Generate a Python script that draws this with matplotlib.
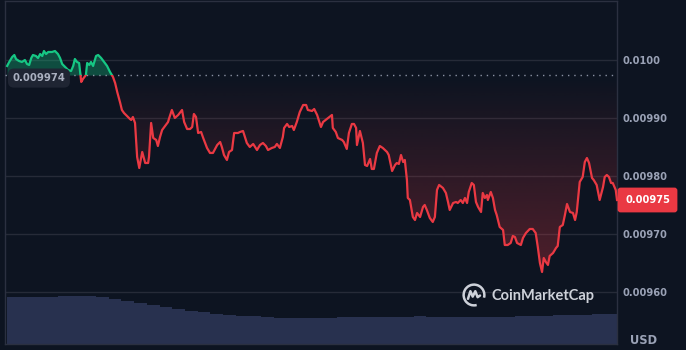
import math
import numpy as np
import matplotlib
matplotlib.use("Agg")
import matplotlib.pyplot as plt
from matplotlib.patches import Polygon, Rectangle, Arc
from matplotlib.colors import to_rgb

# ---------------- data ----------------
minutes = [0, 5, 12, 17, 21, 28, 35, 42, 47, 52, 57, 61, 68, 73, 78, 83, 87, 92, 97, 106,
           113, 120, 125, 130, 137, 144, 151, 156, 160, 165, 170, 175, 179, 186, 189, 194, 198, 203, 210, 215,
           222, 229, 236, 243, 250, 255, 260, 267, 271, 276, 283, 290, 293, 297, 302, 307, 312, 319, 326, 333,
           335, 340, 345, 352, 356, 361, 366, 373, 380, 382, 389, 396, 404, 413, 418, 425, 432, 437, 441, 446,
           451, 458, 463, 472, 479, 486, 496, 503, 507, 512, 519, 524, 531, 536, 545, 550, 557, 566, 573, 581,
           590, 597, 604, 611, 616, 625, 632, 637, 644, 651, 654, 661, 666, 673, 677, 684, 691, 699, 706, 710,
           720, 725, 732, 741, 746, 755, 767, 769, 776, 781, 791, 795, 802, 807, 814, 819, 824, 826, 833, 840,
           845, 850, 857, 861, 866, 873, 880, 887, 897, 901, 909, 916, 920, 925, 930, 935, 939, 944, 946, 951,
           958, 963, 968, 975, 982, 986, 991, 998, 1005, 1010, 1015, 1020, 1029, 1036, 1041, 1045, 1053, 1060, 1064, 1071,
           1076, 1081, 1086, 1090, 1097, 1102, 1107, 1112, 1119, 1123, 1128, 1133, 1135, 1142, 1147, 1152, 1156, 1163, 1171, 1175,
           1182, 1189, 1194, 1199, 1204, 1213, 1218, 1225, 1234, 1241, 1248, 1253, 1258, 1263, 1267, 1272, 1277, 1281, 1289, 1296,
           1300, 1305, 1312, 1317, 1322, 1329, 1336, 1341, 1345, 1352, 1359, 1364, 1369, 1374, 1381, 1385, 1392, 1399, 1407, 1411,
           1416, 1421, 1426, 1430, 1437, 1440]

prices = [0.0099897, 0.0099966, 0.0100052, 0.0100086, 0.0100017, 0.0099983, 0.0099966, 0.0100000, 0.0099931, 0.0099914,
          0.0100034, 0.0100086, 0.0100069, 0.0100034, 0.0100103, 0.0100069, 0.0100155, 0.0100103, 0.0100138, 0.0100138,
          0.0100155, 0.0100103, 0.0100034, 0.0099931, 0.0099879, 0.0099828, 0.0099810, 0.0099897, 0.0100017, 0.0099966,
          0.0099948, 0.0099621, 0.0099672, 0.0099741, 0.0099948, 0.0099914, 0.0099966, 0.0099897, 0.0100069, 0.0100086,
          0.0100034, 0.0099966, 0.0099897, 0.0099793, 0.0099707, 0.0099603, 0.0099448, 0.0099259, 0.0099138, 0.0099086,
          0.0099034, 0.0098983, 0.0098966, 0.0099017, 0.0098914, 0.0098328, 0.0098138, 0.0098414, 0.0098224, 0.0098224,
          0.0098328, 0.0098914, 0.0098655, 0.0098621, 0.0098517, 0.0098672, 0.0098793, 0.0098862, 0.0098931, 0.0098983,
          0.0099138, 0.0099000, 0.0099052, 0.0099138, 0.0098931, 0.0098810, 0.0098810, 0.0098845, 0.0099069, 0.0099017,
          0.0098741, 0.0098759, 0.0098655, 0.0098483, 0.0098397, 0.0098397, 0.0098534, 0.0098586, 0.0098500, 0.0098362,
          0.0098276, 0.0098414, 0.0098448, 0.0098741, 0.0098741, 0.0098759, 0.0098776, 0.0098569, 0.0098500, 0.0098552,
          0.0098448, 0.0098534, 0.0098569, 0.0098517, 0.0098448, 0.0098483, 0.0098500, 0.0098552, 0.0098483, 0.0098672,
          0.0098828, 0.0098897, 0.0098845, 0.0098862, 0.0098793, 0.0098931, 0.0099103, 0.0099224, 0.0099224, 0.0099138,
          0.0099121, 0.0099155, 0.0099052, 0.0098845, 0.0098931, 0.0098983, 0.0099052, 0.0098828, 0.0098759, 0.0098655,
          0.0098621, 0.0098586, 0.0098466, 0.0098741, 0.0098897, 0.0098897, 0.0098828, 0.0098534, 0.0098776, 0.0098569,
          0.0098190, 0.0098172, 0.0098293, 0.0098121, 0.0098121, 0.0098397, 0.0098517, 0.0098483, 0.0098414, 0.0098362,
          0.0098086, 0.0098190, 0.0098224, 0.0098207, 0.0098362, 0.0098241, 0.0098276, 0.0097931, 0.0097621, 0.0097586,
          0.0097293, 0.0097241, 0.0097362, 0.0097293, 0.0097466, 0.0097500, 0.0097414, 0.0097276, 0.0097207, 0.0097293,
          0.0097759, 0.0097845, 0.0097793, 0.0097707, 0.0097552, 0.0097414, 0.0097534, 0.0097552, 0.0097534, 0.0097586,
          0.0097534, 0.0097621, 0.0097534, 0.0097724, 0.0097879, 0.0097845, 0.0097552, 0.0097466, 0.0097379, 0.0097707,
          0.0097621, 0.0097672, 0.0097586, 0.0097724, 0.0097621, 0.0097414, 0.0097328, 0.0097121, 0.0097069, 0.0096810,
          0.0096810, 0.0096845, 0.0096966, 0.0096948, 0.0096845, 0.0096810, 0.0096931, 0.0097017, 0.0097086, 0.0097086,
          0.0097017, 0.0096776, 0.0096500, 0.0096345, 0.0096586, 0.0096517, 0.0096466, 0.0096621, 0.0096672, 0.0096759,
          0.0096793, 0.0097121, 0.0097155, 0.0097328, 0.0097517, 0.0097379, 0.0097362, 0.0097241, 0.0097379, 0.0097897,
          0.0097983, 0.0098241, 0.0098310, 0.0098224, 0.0097966, 0.0097931, 0.0097845, 0.0097586, 0.0097810, 0.0097983,
          0.0098017, 0.0097983, 0.0097879, 0.0097879, 0.0097759, 0.0097586]

open_price = 0.009974

# 30-minute volume bins (thousand USD)
volume_minutes = [15 + 30 * i for i in range(48)]
volumes = [47.3, 47.3, 47.3, 47.0, 48.0, 48.0, 48.0, 47.3, 45.0, 42.7, 41.0, 39.5, 37.5, 35.5, 33.5, 32.0,
           30.5, 29.3, 28.5, 27.8, 26.7, 26.3, 26.1, 26.0, 26.0, 26.3, 26.7, 26.8, 27.0, 27.0, 27.2, 27.4,
           27.7, 27.5, 27.2, 27.0, 27.0, 27.0, 27.3, 27.5, 28.0, 28.2, 28.5, 28.8, 29.0, 29.5, 29.8, 30.0]

ytick_values = [0.0096, 0.0097, 0.0098, 0.0099, 0.0100]
ytick_labels = ["0.00960", "0.00970", "0.00980", "0.00990", "0.0100"]
currency = "USD"
brand = "CoinMarketCap"

# ---------------- style ----------------
BG = "#0d1421"
RED = "#ea3943"
GREEN = "#16c784"
GRID = "#262b38"
LABEL = "#9aa2b6"
VOL = "#28314f"

W, H = 686, 350
fig = plt.figure(figsize=(W / 100, H / 100), dpi=100, facecolor=BG)
rect = [5 / W, 6 / H, 612 / W, 342.7 / H]

vax = fig.add_axes(rect)
ax = fig.add_axes(rect)
vax.set_zorder(0)
ax.set_zorder(1)
ax.patch.set_visible(False)
vax.set_facecolor(BG)

t = np.array(minutes, dtype=float)
p = np.array(prices)
xmin, xmax = -5, 1440
ax.set_xlim(xmin, xmax)
ax.set_ylim(0.0095103, 0.0101012)
vax.set_xlim(xmin, xmax)

# volume
vax.bar(volume_minutes, volumes, width=30, color=VOL, linewidth=0, align="center")
vax.set_ylim(0, max(volumes) * 7.14)
vax.axis("off")

# grid / spines / ticks
ax.set_yticks(ytick_values)
ax.set_yticklabels(ytick_labels)
ax.yaxis.grid(True, color=GRID, linewidth=1)
ax.set_axisbelow(True)
ax.set_xticks([])
ax.yaxis.tick_right()
ax.tick_params(axis="y", length=0, pad=4.3, labelcolor=LABEL, labelsize=7.1)
for lab in ax.get_yticklabels():
    lab.set_fontweight("bold")
for s in ax.spines.values():
    s.set_color("#2b3040")
    s.set_linewidth(1)

# green fill above open
above = np.maximum(p, open_price)
ax.fill_between(t, open_price, above, color=GREEN, alpha=0.32, linewidth=0, zorder=2)

# red gradient fill below open
below = np.minimum(p, open_price)
verts = np.column_stack([np.r_[t, t[::-1]], np.r_[below, np.full_like(t, open_price)[::-1]]])
clip = Polygon(verts, closed=True, transform=ax.transData, facecolor="none", edgecolor="none")
ax.add_patch(clip)
n = 256
rgba = np.zeros((n, 1, 4))
rgba[..., :3] = to_rgb(RED)
rgba[:, 0, 3] = np.linspace(0.30, 0.0, n)
im = ax.imshow(rgba, extent=[t[0], t[-1], p.min(), open_price], origin="lower",
               aspect="auto", zorder=2, interpolation="bilinear")
im.set_clip_path(clip)
ax.set_xlim(xmin, xmax)
ax.set_ylim(0.0095103, 0.0101012)

# baseline dotted
ax.axhline(open_price, color="#8a91a3", linewidth=1.0, linestyle=(0, (1, 3.5)), zorder=3)

# price line split at open
top_rect = Rectangle((xmin - 100, open_price), 3000, 1, transform=ax.transData)
bot_rect = Rectangle((xmin - 100, open_price - 1), 3000, 1, transform=ax.transData)
lg, = ax.plot(t, p, color=GREEN, linewidth=1.6, zorder=4, solid_joinstyle="round")
lg.set_clip_path(top_rect)
lr, = ax.plot(t, p, color=RED, linewidth=1.6, zorder=4, solid_joinstyle="round")
lr.set_clip_path(bot_rect)

# open price label
ax.annotate(f"{open_price:.6f}", xy=(0, open_price), xycoords=("axes fraction", "data"),
            xytext=(7.5, -3), textcoords="offset pixels", ha="left", va="center",
            fontsize=7.3, fontweight="bold", color="#aab0c0", zorder=6,
            bbox=dict(boxstyle="round,pad=0.45,rounding_size=0.6", fc="#1f2533", ec="none"))

# last price label
last = prices[-1]
last_txt = f"{math.floor(last * 1e5) / 1e5:.5f}"
ax.annotate(last_txt, xy=(1, last), xycoords=("axes fraction", "data"),
            xytext=(8, 0), textcoords="offset pixels", ha="left", va="center",
            fontsize=7.1, fontweight="bold", color="white", zorder=6, annotation_clip=False,
            bbox=dict(boxstyle="round,pad=0.75,rounding_size=0.3", fc=RED, ec="none"))

# currency
fig.text(630 / W, 1 - 340 / H, currency, ha="left", va="center", fontsize=8.3,
         fontweight="bold", color=LABEL)

# watermark
fig.text(492 / W, 1 - 296 / H, brand, ha="left", va="center", fontsize=10.5,
         fontweight="bold", color="#cdd1d9", family=["Lato", "DejaVu Sans"], zorder=10)
lax = fig.add_axes([462 / W, 1 - 307 / H, 24 / W, 24 / H])
lax.set_xlim(-1.1, 1.1)
lax.set_ylim(-1.1, 1.1)
lax.axis("off")
lax.set_zorder(5)
lax.add_patch(Arc((0, 0), 1.9, 1.9, theta1=-15, theta2=285, color="#cdd1d9", linewidth=1.8))
lax.plot([-0.55, -0.33, -0.12, 0.12, 0.33, 0.55], [-0.35, 0.35, -0.15, 0.35, -0.2, -0.05],
         color="#cdd1d9", linewidth=1.8, solid_joinstyle="round", solid_capstyle="round")

fig.savefig("out.png", dpi=100, facecolor=BG)
